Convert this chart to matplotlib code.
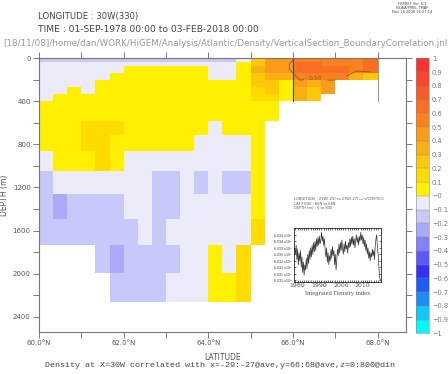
import numpy as np
import matplotlib
matplotlib.use("Agg")
import matplotlib.pyplot as plt
from matplotlib.colors import ListedColormap, BoundaryNorm

# latitude cells: 1/3 degree from 60N
lat_edges = np.linspace(60.0, 60.0 + 26 / 3.0, 27)
depth_edges = [0, 10, 40, 70, 137, 205, 272, 330, 400, 490, 586, 716, 864,
               1049, 1262, 1488, 1738, 1994, 2262]

# correlation class per cell (one string per depth level, one char per latitude cell)
code_value = {"P": -0.05, "B": -0.15, "D": -0.25, "Y": 0.05, "K": 0.15,
              "2": 0.25, "3": 0.35, "4": 0.45, "5": 0.55, "6": 0.65, ".": np.nan}
corr_rows = [
    "DDDDDDDDDDDDDDP244555556..",
    "BBBBBBBBBBBBBBP244555556..",
    "PPPPPPPPPPPPPPY244665556..",
    "PPPPPPYYYYYYPPY344666656..",
    "PPPPPYYYYYYYPPY233555532..",
    "PPPPYYYYYYYYYYY22Y434.....",
    "PPYPYYYYYYYYYYYK2Y324.....",
    "PYYYYYYYYYYYYYYKKY32......",
    "YYYYYYYYYYYYYYYYY.........",
    "YYYYYYYYYYYYYYYYY.........",
    "YYYKKKYYYYYYPYYY..........",
    "YYYKKYYYYYYPPPPY..........",
    "PYYYKYPPPPPPPPPY..........",
    "BPPPPPPPBBPBPBBY..........",
    "BDBBBBPPBBPPPPPY..........",
    "BBBBBBBPBPPPPPPK..........",
    "....BDBBBBPPYPK...........",
    ".....BBBBPPPYYK...........",
]
corr = np.array([[code_value[c] for c in row] for row in corr_rows])

levels = np.round(np.arange(-1.0, 1.01, 0.1), 1)
colors = ["#00fafa", "#14c8f5", "#1e8cf5", "#1e5af5", "#3232f5",
          "#5a5af5", "#8282f5", "#aaaaf8", "#c8c8fa", "#ebebfa",
          "#fff000", "#ffdc00", "#ffc80a", "#faaf14", "#fa9b19",
          "#fa821e", "#fa6e23", "#fa5a28", "#fa462d", "#fa3232"]

# integrated density index (66-68N, 0-800 m), 4-monthly
index_vals = [
    6.0330,
    6.0326, 6.0333, 6.0322, 6.0330, 6.0318, 6.0327, 6.0321, 6.0329, 6.0316,
    6.0324, 6.0312, 6.0320, 6.0310, 6.0318, 6.0314, 6.0323, 6.0315, 6.0326,
    6.0319, 6.0329, 6.0322, 6.0331, 6.0324, 6.0333, 6.0326, 6.0335, 6.0328,
    6.0336, 6.0329, 6.0338, 6.0332, 6.0339, 6.0333, 6.0340, 6.0334, 6.0337,
    6.0343, 6.0336, 6.0340, 6.0333, 6.0338, 6.0329, 6.0324, 6.0331, 6.0320,
    6.0327, 6.0318, 6.0325, 6.0321, 6.0330, 6.0323, 6.0332, 6.0325, 6.0329,
    6.0318, 6.0326, 6.0314, 6.0322, 6.0330, 6.0325, 6.0334, 6.0327, 6.0335,
    6.0329, 6.0337, 6.0331, 6.0326, 6.0334, 6.0328, 6.0336, 6.0330, 6.0333,
    6.0327, 6.0335, 6.0331, 6.0338, 6.0332, 6.0339, 6.0334, 6.0340, 6.0333,
    6.0338, 6.0331, 6.0337, 6.0341, 6.0335, 6.0339, 6.0333, 6.0340, 6.0336,
    6.0343, 6.0337, 6.0341, 6.0334, 6.0339, 6.0332, 6.0337, 6.0329, 6.0334,
    6.0326, 6.0331, 6.0323, 6.0328, 6.0321, 6.0327, 6.0324, 6.0330, 6.0325,
    6.0329, 6.0322, 6.0333, 6.0338, 6.0341, 6.0331, 6.0326, 6.0316, 6.0309,
    6.0306,
]
index_years = np.linspace(1978.67, 2018.09, len(index_vals))

gray = "#555555"
plt.rcParams["font.family"] = "DejaVu Sans"

fig = plt.figure(figsize=(4.48, 3.74), dpi=100)
ax = fig.add_axes([0.0871, 0.1123, 0.8185, 0.7326])

cmap = ListedColormap(colors)
norm = BoundaryNorm(levels, cmap.N)
mesh = ax.pcolormesh(lat_edges, depth_edges, np.ma.masked_invalid(corr),
                     cmap=cmap, norm=norm)

lat_c = 0.5 * (lat_edges[:-1] + lat_edges[1:])
dep_c = 0.5 * (np.array(depth_edges[:-1]) + np.array(depth_edges[1:]))
cs = ax.contour(lat_c, dep_c, np.ma.masked_invalid(corr), levels=[0.5],
                colors="#8a5a30", linewidths=0.6)
ax.clabel(cs, fmt="%.2f", fontsize=4.5, colors="#8a5a30", manual=[(66.6, 35)])

# averaging box edges
ax.plot([66, 66], [0, 400], color="#444444", lw=0.8)
ax.plot([68, 68], [0, 400], color="#999999", lw=0.8)

ax.set_xlim(60, 60 + 26 / 3.0)
ax.set_ylim(2540, 0)
ax.set_xticks([60, 62, 64, 66, 68])
ax.set_xticklabels(["60.0°N", "62.0°N", "64.0°N", "66.0°N", "68.0°N"])
ax.set_xticks([61, 63, 65, 67], minor=True)
ax.set_yticks(np.arange(0, 2401, 400))
ax.set_yticks(np.arange(200, 2401, 400), minor=True)
for which in ("major", "minor"):
    ax.tick_params(which=which, direction="out", length=4, width=0.6,
                   color="#666666", top=True, right=True, labelsize=5,
                   labelcolor=gray, pad=2)
for sp in ax.spines.values():
    sp.set_color("#777777")
    sp.set_linewidth(0.8)
ax.set_xlabel("LATITUDE", fontsize=5.5, color=gray, labelpad=3)
ax.set_ylabel("DEPTH (m)", fontsize=5.5, color=gray, labelpad=3)
ax.xaxis.set_label_coords(0.5, -0.075)

# colour key
cax = fig.add_axes([0.9286, 0.1088, 0.029, 0.7353])
cb = fig.colorbar(mesh, cax=cax, drawedges=True, ticks=levels)
cb.outline.set_linewidth(0.4)
cb.outline.set_edgecolor("#888888")
cb.dividers.set_color("#888888")
cb.dividers.set_linewidth(0.3)
cb.ax.set_yticklabels([("%g" % v).replace("-", "\u2212") for v in levels])
cb.ax.tick_params(length=0, labelsize=4.8, labelcolor="#777777", pad=2)

# inset time series
iax = fig.add_axes([0.657, 0.2468, 0.193, 0.1428])
iax.plot(index_years, index_vals, color="#333333", lw=0.5)
iax.set_xlim(1978.5, 2018.3)
iax.set_ylim(6.0305, 6.0346)
iax.set_xticks([1980, 1990, 2000, 2010])
iax.set_xticks(np.arange(1979, 2018), minor=True)
yt = np.arange(6.0306, 6.03451, 0.0005)
iax.set_yticks(yt)
iax.set_yticklabels(["%.3f x10$^3$" % v for v in yt])
iax.tick_params(which="both", direction="in", top=True, right=True,
                length=1.5, width=0.4, labelsize=2.3, pad=1.2, labelcolor="#333333")
iax.tick_params(axis="x", labelsize=4.5, labelcolor=gray)
for sp in iax.spines.values():
    sp.set_linewidth(0.5)
iax.set_xlabel("Integrated Density index", fontsize=4.8, color=gray,
               family="Liberation Serif", labelpad=2)
fig.text(0.657, 0.472, "LONGITUDE : 29W(-29) to 27W(-27)\nLATITUDE : 66N to 68N\nDEPTH (m) : 0 to 800",
         fontsize=2.6, color=gray, va="top", linespacing=1.1)
fig.text(0.856, 0.474, "FERRET Ver. 6.1\nNOAA/PMEL TMAP\nNov 18 2008 16:27:14",
         fontsize=1.6, color=gray, va="top", ha="right", linespacing=1.0)

# header texts
fig.text(0.92, 0.995, "FERRET Ver. 6.1\nNOAA/PMEL TMAP\nNov 18 2008 16:27:14",
         fontsize=2.6, color="#444444", va="top", ha="center", linespacing=1.0)
fig.text(0.085, 0.955, "LONGITUDE : 30W(330)", fontsize=6.1, color="#444444", va="center")
fig.text(0.085, 0.922, "TIME : 01-SEP-1978 00:00 to 03-FEB-2018 00:00", fontsize=6.6,
         color="#444444", va="center")
fig.text(0.008, 0.883,
         "[18/11/08]/home/dan/WORK/HiGEM/Analysis/Atlantic/Density/VerticalSection_BoundaryCorrelation.jnl",
         fontsize=6.3, color="#999999", va="center")
fig.text(0.49, 0.013,
         "Density at X=30W correlated with x=-29:-27@ave,y=66:68@ave,z=0:800@din",
         fontsize=6.0, family="Liberation Mono", color="#444444", ha="center", va="bottom")

fig.savefig("out.png", dpi=100)
